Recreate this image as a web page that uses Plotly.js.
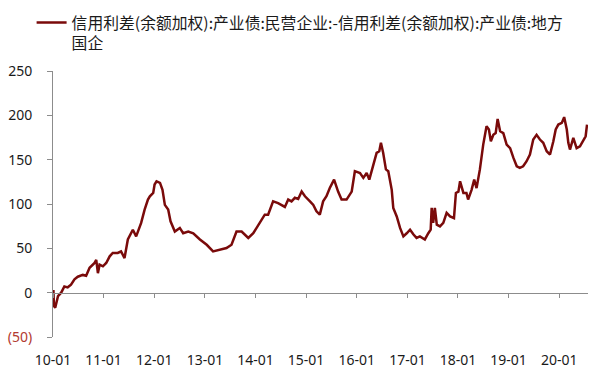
<!DOCTYPE html>
<html>
<head>
<meta charset="utf-8">
<script src="https://cdn.plot.ly/plotly-3.0.1.min.js"></script>
<style>html,body{margin:0;padding:0;background:#fff;}#chart{width:604px;height:376px;}</style>
</head>
<body>
<div id="chart"></div>
<script>
// Series: 信用利差(余额加权):产业债:民营企业 - 信用利差(余额加权):产业债:地方国企 (bp)
const seriesName = '信用利差(余额加权):产业债:民营企业:-信用利差(余额加权):产业债:地方<br>国企';
const dates = [
'2010-01-04','2010-01-08','2010-01-17','2010-02-06','2010-03-01','2010-03-24','2010-04-17','2010-05-11','2010-06-05','2010-06-29',
'2010-08-04','2010-08-28','2010-09-22','2010-10-28','2010-11-09','2010-11-21','2010-12-03','2010-12-27','2011-01-20','2011-02-14',
'2011-03-08','2011-04-13','2011-05-07','2011-06-01','2011-06-25','2011-07-31','2011-08-24','2011-09-29','2011-10-24','2011-11-17',
'2011-12-01','2011-12-10','2011-12-25','2012-01-04','2012-01-18','2012-02-12','2012-03-01','2012-03-18','2012-04-11','2012-04-28',
'2012-05-29','2012-07-04','2012-07-28','2012-09-03','2012-10-09','2012-11-26','2013-01-14','2013-03-01','2013-04-18','2013-06-06',
'2013-07-12','2013-08-17','2013-09-23','2013-11-10','2013-12-16','2014-01-21','2014-02-03','2014-03-09','2014-04-02','2014-05-08',
'2014-06-13','2014-08-01','2014-08-25','2014-09-18','2014-10-12','2014-11-05','2014-11-30','2014-12-24','2015-01-29','2015-02-22',
'2015-03-17','2015-04-10','2015-05-04','2015-05-28','2015-06-21','2015-07-22','2015-08-20','2015-09-14','2015-10-20','2015-11-26',
'2015-12-19','2016-01-25','2016-02-18','2016-03-13','2016-04-01','2016-04-30','2016-05-24','2016-06-12','2016-06-24','2016-07-10',
'2016-07-30','2016-08-16','2016-09-10','2016-09-21','2016-10-16','2016-11-09','2016-12-03','2016-12-27','2017-01-20','2017-02-14',
'2017-03-08','2017-04-01','2017-05-07','2017-06-01','2017-06-18','2017-06-25','2017-07-06','2017-07-18','2017-08-01','2017-08-24',
'2017-09-17','2017-10-11','2017-11-05','2017-12-03','2017-12-17','2018-01-04','2018-01-16','2018-02-09','2018-03-03','2018-03-15',
'2018-04-09','2018-04-28','2018-05-15','2018-06-08','2018-07-02','2018-07-26','2018-08-12','2018-08-26','2018-09-13','2018-09-30',
'2018-10-14','2018-11-01','2018-11-24','2018-12-18','2019-01-12','2019-02-05','2019-03-01','2019-03-23','2019-04-16','2019-05-10',
'2019-06-04','2019-06-28','2019-07-22','2019-08-15','2019-09-08','2019-10-03','2019-10-27','2019-11-20','2019-12-07','2019-12-26',
'2020-01-20','2020-02-06','2020-02-25','2020-03-07','2020-03-19','2020-04-12','2020-05-06','2020-05-30','2020-06-23','2020-07-10',
'2020-07-20'
];
const spread = [
3,-15,-17,-4,0,7,6,9,15,18,
20,19,28,33.5,37,22,31.6,29.7,33.5,41,
44.8,44.8,46.6,39,60,71,63.5,78.7,93.7,105,
108.7,110.6,112.5,122,125.6,123.8,116,99,93.7,80.5,
69,73,67,69,67,60,54,46.6,48.5,50.4,
54,69,69,61.7,67,76.7,80.5,88,88,103,
101,96.7,105,103,107,105.7,114,108.7,103,99,
91.8,88,103,108.7,118,127.5,114,105,105,114,
137,135,129.5,135,127.5,144.5,157.7,159.5,169,157.7,
139,137,116,95.6,86,73,63.5,67,71,65.5,
61.7,63.5,60,67,71,95.6,78.7,95.6,76.7,74.8,
78.7,90,86,84,112.5,114,125.6,112.5,112.5,105,
116,127.5,118,139,167,187.7,184,170.8,178,180,
196,182,180,167,163,152,142.5,140.7,142.5,148,
155.8,172.7,178,172.7,169,159.5,155.8,170.8,184,189.6,
191.5,198,184,169,161.4,174.6,163,165,172.7,176.4,
189.6
];
const xRange = ['2010-01-01', '2020-07-27'];
const xTickVals = ['2010-01-01','2011-01-01','2012-01-01','2013-01-01','2014-01-01','2015-01-01','2016-01-01','2017-01-01','2018-01-01','2019-01-01','2020-01-01'];
const xTickText = ['10-01','11-01','12-01','13-01','14-01','15-01','16-01','17-01','18-01','19-01','20-01'];
const yTickVals = [-50, 0, 50, 100, 150, 200, 250];
const yTickText = ['<span style="color:#b23a30">(50)</span>', '0', '50', '100', '150', '200', '250'];

const axisColor = '#8c8c8c';
const tickFont = {family: '"Noto Sans", "DejaVu Sans", sans-serif', size: 14, color: '#1a1a1a'};

const traces = [
  {
    x: dates, y: spread, type: 'scatter', mode: 'lines', name: seriesName,
    line: {color: '#7a0a0a', width: 2.5}, xaxis: 'x', yaxis: 'y', hoverinfo: 'x+y'
  },
  {
    x: xTickVals, y: xTickVals.map(() => null), type: 'scatter', mode: 'lines',
    xaxis: 'x2', yaxis: 'y', showlegend: false, hoverinfo: 'skip'
  }
];

const layout = {
  width: 604, height: 376,
  margin: {l: 53, r: 16, t: 71, b: 39, autoexpand: false},
  paper_bgcolor: '#ffffff', plot_bgcolor: '#ffffff',
  showlegend: true,
  legend: {
    x: -0.04, xanchor: 'left', y: 1.245, yanchor: 'top', valign: 'top',
    font: {family: '"Noto Sans CJK SC", sans-serif', size: 15.8, color: '#1a1a1a'},
    bgcolor: 'rgba(0,0,0,0)', borderwidth: 0, itemwidth: 30
  },
  xaxis: {
    type: 'date', range: xRange, anchor: 'free', position: 50 / 300,
    showline: true, linecolor: axisColor, linewidth: 1,
    ticks: 'outside', ticklen: 4, tickcolor: axisColor, tickwidth: 1,
    tickmode: 'array', tickvals: xTickVals, showticklabels: false,
    showgrid: false, zeroline: false
  },
  xaxis2: {
    type: 'date', overlaying: 'x', matches: 'x', anchor: 'y', side: 'bottom',
    showline: false, ticks: '', tickmode: 'array', tickvals: xTickVals, ticktext: xTickText,
    tickfont: tickFont, ticklabelstandoff: 13, showgrid: false, zeroline: false
  },
  yaxis: {
    range: [-50, 250], showline: true, linecolor: axisColor, linewidth: 1,
    ticks: 'outside', ticklen: 5, tickcolor: axisColor, tickwidth: 1,
    tickmode: 'array', tickvals: yTickVals, ticktext: yTickText,
    tickfont: tickFont, ticklabelstandoff: 12,
    showgrid: false, zeroline: false
  }
};

Plotly.newPlot('chart', traces, layout, {staticPlot: true, displayModeBar: false});
</script>
</body>
</html>
